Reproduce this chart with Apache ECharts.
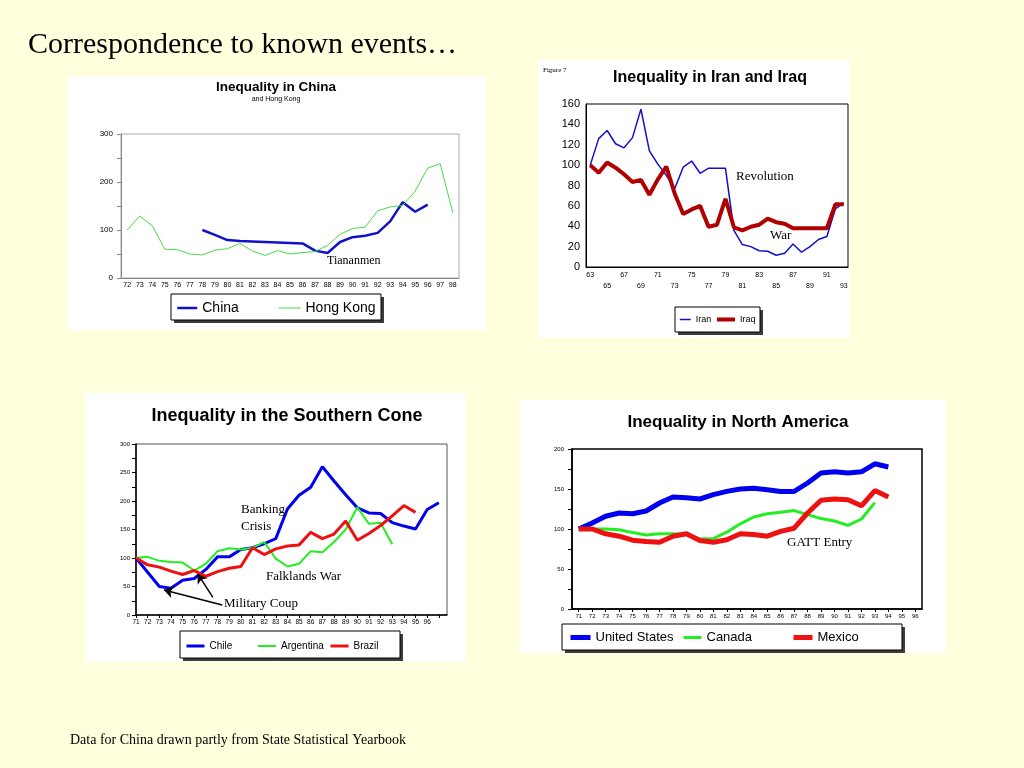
<!DOCTYPE html>
<html><head><meta charset="utf-8">
<script src="https://cdn.jsdelivr.net/npm/echarts@6/dist/echarts.min.js"></script>
<style>html,body{margin:0;padding:0;background:#FFFFDD;}#c{width:1024px;height:768px;}</style>
</head><body><div id="c"></div>
<script>
// ---- Chart 1: China / Hong Kong
const chinaYears = ['72','73','74','75','76','77','78','79','80','81','82','83','84','85','86','87','88','89','90','91','92','93','94','95','96','97','98'];
const chinaVals = [null,null,null,null,null,null,100,90,79,77,76,75,74,73,72,57,52,75,85,88,94,118,158,138,153,null,null];
const hongKongVals = [100,129,109,60,59,50,48,58,61,72,56,47,57,50,53,55,68,91,103,106,140,148,151,181,229,238,136];
// ---- Chart 2: Iran / Iraq
const iranYears = ['63','64','65','66','67','68','69','70','71','72','73','74','75','76','77','78','79','80','81','82','83','84','85','86','87','88','89','90','91','92','93'];
const iranVals = [100,126,134,121,117,127,155,114,101,90,77,98,104,92,97,97,97,36,22,20,16,15.5,11.5,13.5,22.5,14.5,20,27,30,57,63];
const iraqVals = [100,92.5,102.5,97.5,91,83.5,85.5,71,86,98.5,72,52,56.5,60,39.5,41.5,67,39,36,39.5,41.5,47.5,44,42.5,38,38,38,38,38,61.5,61.5];
// ---- Chart 3: Southern Cone
const coneYears = [71,72,73,74,75,76,77,78,79,80,81,82,83,84,85,86,87,88,89,90,91,92,93,94,95,96,97];
const chileVals = [100,75,50,47,61,64,80,102,102,115,118,125,134,186,210,224,260,235,211,188,179,178,162,156,151,185,197];
const argentinaVals = [100,102,95,93,92,78,90,112,117,115,118,128,99,85,90,112,110,128,150,189,160,162,124];
const brazilVals = [100,88,84,77,71,78,68,76,82,85,118,106,116,121,123,145,134,142,165,131,143,157,174,192,180];
// ---- Chart 4: North America
const naYears = ['71','72','73','74','75','76','77','78','79','80','81','82','83','84','85','86','87','88','89','90','91','92','93','94','95','96'];
const usVals = [100,107.5,116,120,119,122.5,132.5,140,139,137.5,143,147,150,151,149,147,147,157.5,170,171.5,170,171.5,181.5,177.5];
const canadaVals = [100,100,100,99,95.5,92.5,94,94,93,87.5,88,96,106.5,115,119,121,123,118,113,110,104.5,112.5,133];
const mexicoVals = [100,100,94,91,86,84.5,83.5,91,94,85.5,83.5,86.5,94,93,91,97,101,120,136,137.5,136.5,129,148,140];

const SANS = 'Liberation Sans, Arial, sans-serif';
const SERIF = 'Liberation Serif, Times New Roman, serif';

function txt(x, y, text, font, align) {
  return {type:'text', x:x, y:y, z:100, style:{text:text, font:font, fill:'#000',
    align:align||'left', verticalAlign:'middle', textAlign:align||'left', textVerticalAlign:'middle'}};
}
function panel(x,y,w,h){return {type:'rect', shape:{x:x,y:y,width:w,height:h}, style:{fill:'#FFFFFF'}, z:-10};}
function box(x,y,w,h){return [
  {type:'rect', shape:{x:x+3,y:y+3,width:w,height:h}, style:{fill:'#3c3c3c'}, z:-5},
  {type:'rect', shape:{x:x,y:y,width:w,height:h}, style:{fill:'#FFFFFF', stroke:'#000', lineWidth:1}, z:-4}];}
function leg(name, left, top, iw, fs, lw){
  return {left:left, top:top, padding:0, itemWidth:iw, itemHeight:1, itemGap:0, data:[name],
    lineStyle:{width:lw}, textStyle:{fontSize:fs, fontFamily:SANS, color:'#000'}};
}

const chart = echarts.init(document.getElementById('c'));
chart.setOption({
  backgroundColor:'#FFFFDD',
  animation:false,
  graphic:[].concat(
    [panel(68,77,418,253), panel(538,60,312,278), panel(85,393,381,269), panel(520,400,426,253)],
    box(171,294,210,26), box(675,307,85,25), box(180,631,220,27), box(562,624,340,26),
    [
    txt(28,45,'Correspondence to known events…','30px '+SERIF),
    txt(70,740,'Data for China drawn partly from State Statistical Yearbook','14px '+SERIF),
    txt(276,87,'Inequality in China','bold 13.5px '+SANS,'center'),
    txt(276,99,'and Hong Kong','7px '+SANS,'center'),
    txt(327,261,'Tiananmen','12px '+SERIF),
    txt(543,70,'Figure 7','7px '+SERIF),
    txt(710,78,'Inequality in Iran and Iraq','bold 16px '+SANS,'center'),
    txt(736,177,'Revolution','13px '+SERIF),
    txt(770,236,'War','13px '+SERIF),
    txt(287,416,'Inequality in the Southern Cone','bold 18px '+SANS,'center'),
    txt(241,510,'Banking','13px '+SERIF),
    txt(241,527,'Crisis','13px '+SERIF),
    txt(266,577,'Falklands War','13px '+SERIF),
    txt(224,604,'Military Coup','13px '+SERIF),
    txt(738,422,'Inequality in North America','bold 17px '+SANS,'center'),
    txt(787,543,'GATT Entry','13px '+SERIF)
  ]),
  grid:[
    {left:121, top:134, width:338, height:144, show:true, borderColor:'#aaa', borderWidth:1},
    {left:586, top:104, width:262, height:163, show:true, borderColor:'#000', borderWidth:1},
    {left:136, top:444, width:311, height:171, show:true, borderColor:'#555', borderWidth:1},
    {left:572, top:449, width:350, height:160, show:true, borderColor:'#000', borderWidth:1.5}
  ],
  xAxis:[
    {gridIndex:0, type:'category', data:chinaYears, boundaryGap:true,
      axisLine:{lineStyle:{color:'#888'}}, axisTick:{show:false},
      axisLabel:{interval:0, fontSize:7, color:'#000', fontFamily:SANS, margin:4}, splitLine:{show:false}},
    {gridIndex:1, type:'category', data:iranYears, boundaryGap:true,
      axisLine:{lineStyle:{color:'#000'}}, axisTick:{show:false},
      axisLabel:{interval:1, fontSize:7, color:'#000', fontFamily:SANS, margin:3, lineHeight:11,
        formatter:function(v,i){return i%4===2 ? '\n'+v : v;}}, splitLine:{show:false}},
    {gridIndex:2, type:'value', min:71, max:97.7, interval:1,
      axisLine:{lineStyle:{color:'#000', width:1.5}}, axisTick:{show:true, length:3, lineStyle:{color:'#000'}},
      axisLabel:{fontSize:6.5, color:'#000', fontFamily:SANS, margin:4, showMaxLabel:false,
        formatter:function(v){return v<=96.01 ? String(Math.round(v)) : '';}}, splitLine:{show:false}},
    {gridIndex:3, type:'category', data:naYears, boundaryGap:true,
      axisLine:{lineStyle:{color:'#000', width:1.5}}, axisTick:{show:true, alignWithLabel:true, length:3, lineStyle:{color:'#000'}},
      axisLabel:{interval:0, fontSize:6, color:'#000', fontFamily:SANS, margin:4}, splitLine:{show:false}}
  ],
  yAxis:[
    {gridIndex:0, type:'value', min:0, max:300, interval:50,
      axisLine:{show:true, lineStyle:{color:'#888'}}, axisTick:{show:true, length:4, lineStyle:{color:'#888'}},
      axisLabel:{fontSize:8, color:'#000', fontFamily:SANS, margin:8, formatter:function(v){return v%100===0?v:'';}},
      splitLine:{show:false}},
    {gridIndex:1, type:'value', min:0, max:160, interval:20,
      axisLine:{show:true, lineStyle:{color:'#000'}}, axisTick:{show:false},
      axisLabel:{fontSize:11, color:'#000', fontFamily:SANS, margin:6}, splitLine:{show:false}},
    {gridIndex:2, type:'value', min:0, max:300, interval:25,
      axisLine:{show:true, lineStyle:{color:'#000', width:1.5}}, axisTick:{show:true, length:4, lineStyle:{color:'#000'}},
      axisLabel:{fontSize:6, color:'#000', fontFamily:SANS, margin:6, formatter:function(v){return v%50===0?v:'';}},
      splitLine:{show:false}},
    {gridIndex:3, type:'value', min:0, max:200, interval:25,
      axisLine:{show:true, lineStyle:{color:'#000', width:1.5}}, axisTick:{show:true, length:4, lineStyle:{color:'#000'}},
      axisLabel:{fontSize:6, color:'#000', fontFamily:SANS, margin:8, formatter:function(v){return v%50===0?v:'';}},
      splitLine:{show:false}}
  ],
  legend:[
    leg('China',176,301,20,14,2.5), leg('Hong Kong',278,301,22,14,1),
    leg('Iran',679,315,11,9,1.5), leg('Iraq',715,315,18,9,4),
    leg('Chile',185,641,18,10,3), leg('Argentina',257,641,18,10,2), leg('Brazil',329,641,18,10,3),
    leg('United States',568,631,20,13,5), leg('Canada',682,631,18,13,3), leg('Mexico',791,631,19,13,5)
  ],
  series:[
    {name:'China', type:'line', xAxisIndex:0, yAxisIndex:0, data:chinaVals, symbol:'none', color:'#1111CC', lineStyle:{width:2.5, color:'#1111CC'}},
    {name:'Hong Kong', type:'line', xAxisIndex:0, yAxisIndex:0, data:hongKongVals, symbol:'none', color:'#44DD44', lineStyle:{width:1, color:'#44DD44'}},
    {name:'Iran', type:'line', xAxisIndex:1, yAxisIndex:1, data:iranVals, symbol:'none', color:'#1111CC', lineStyle:{width:1.5, color:'#1111CC'}},
    {name:'Iraq', type:'line', xAxisIndex:1, yAxisIndex:1, data:iraqVals, symbol:'none', color:'#B00000', lineStyle:{width:4, color:'#B00000'}},
    {name:'Chile', type:'line', xAxisIndex:2, yAxisIndex:2, data:coneYears.map(function(y,i){return [y, chileVals[i]];}), symbol:'none', color:'#0000EE', lineStyle:{width:3, color:'#0000EE'},
      markLine:{silent:true, symbol:['none','arrow'], symbolSize:9, label:{show:false}, lineStyle:{color:'#000', width:1.5, type:'solid'},
        data:[[{coord:[78.4,17.5]},{coord:[73.4,44]}],[{coord:[77.6,31]},{coord:[76.3,72]}]]}},
    {name:'Argentina', type:'line', xAxisIndex:2, yAxisIndex:2, data:coneYears.slice(0,argentinaVals.length).map(function(y,i){return [y, argentinaVals[i]];}), symbol:'none', color:'#22EE22', lineStyle:{width:2, color:'#22EE22'}},
    {name:'Brazil', type:'line', xAxisIndex:2, yAxisIndex:2, data:coneYears.slice(0,brazilVals.length).map(function(y,i){return [y, brazilVals[i]];}), symbol:'none', color:'#EE1111', lineStyle:{width:3, color:'#EE1111'}},
    {name:'United States', type:'line', xAxisIndex:3, yAxisIndex:3, data:usVals, symbol:'none', color:'#0000EE', lineStyle:{width:5, color:'#0000EE'}},
    {name:'Canada', type:'line', xAxisIndex:3, yAxisIndex:3, data:canadaVals, symbol:'none', color:'#22EE22', lineStyle:{width:3, color:'#22EE22'}},
    {name:'Mexico', type:'line', xAxisIndex:3, yAxisIndex:3, data:mexicoVals, symbol:'none', color:'#EE1111', lineStyle:{width:5, color:'#EE1111'}}
  ]
});
</script>
</body></html>
